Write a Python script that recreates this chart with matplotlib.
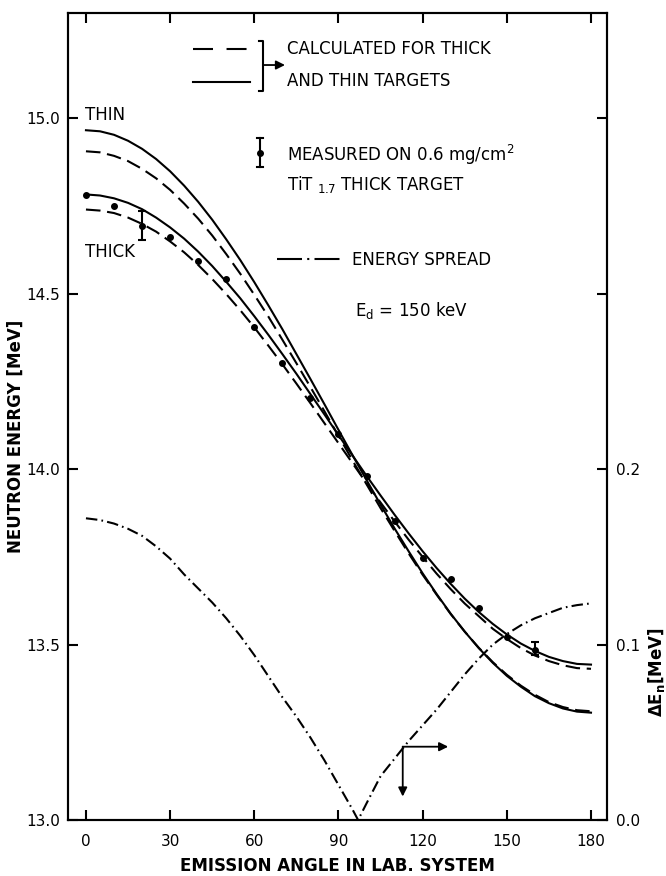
import matplotlib
matplotlib.use("Agg")
import matplotlib.pyplot as plt

plt.rcParams['font.family'] = ['DejaVu Sans']
plt.rcParams['mathtext.default'] = 'regular'

# calculated curves, read every 5 deg
angle = [0, 5, 10, 15, 20, 25, 30, 35, 40, 45, 50, 55, 60, 65, 70, 75, 80, 85, 90,
         95, 100, 105, 110, 115, 120, 125, 130, 135, 140, 145, 150, 155, 160, 165, 170, 175, 180]
thin_solid = [14.966, 14.963, 14.953, 14.936, 14.913, 14.884, 14.849, 14.808, 14.762, 14.711,
              14.655, 14.596, 14.533, 14.467, 14.399, 14.328, 14.257, 14.185, 14.112,
              14.040, 13.969, 13.899, 13.831, 13.766, 13.703, 13.644, 13.588, 13.537, 13.490,
              13.448, 13.411, 13.380, 13.353, 13.333, 13.318, 13.309, 13.306]
thin_dashed = [14.906, 14.903, 14.893, 14.878, 14.856, 14.829, 14.796, 14.757, 14.714, 14.666,
               14.613, 14.557, 14.497, 14.435, 14.369, 14.302, 14.234, 14.165, 14.095,
               14.025, 13.957, 13.889, 13.824, 13.760, 13.699, 13.642, 13.587, 13.537, 13.491,
               13.450, 13.414, 13.383, 13.357, 13.336, 13.322, 13.313, 13.310]
thick_solid = [14.783, 14.780, 14.772, 14.759, 14.741, 14.717, 14.689, 14.657, 14.620, 14.579,
               14.534, 14.487, 14.436, 14.383, 14.328, 14.272, 14.214, 14.156, 14.097,
               14.039, 13.981, 13.925, 13.870, 13.817, 13.766, 13.718, 13.673, 13.631, 13.593,
               13.559, 13.529, 13.503, 13.482, 13.465, 13.453, 13.445, 13.443]
thick_dashed = [14.740, 14.737, 14.730, 14.717, 14.699, 14.677, 14.649, 14.618, 14.582, 14.542,
                14.499, 14.453, 14.404, 14.352, 14.299, 14.244, 14.188, 14.131, 14.074,
                14.017, 13.960, 13.905, 13.851, 13.799, 13.750, 13.702, 13.658, 13.617, 13.581,
                13.545, 13.516, 13.490, 13.469, 13.453, 13.441, 13.433, 13.431]

# energy spread (right axis, MeV)
spread_angle = [0, 5, 10, 15, 20, 25, 30, 35, 40, 45, 50, 55, 60, 65, 70, 75, 80, 85, 90, 95,
                97, 100, 105, 110, 115, 120, 125, 130, 135, 140, 145, 150, 155, 160, 165, 170, 175, 180]
spread = [0.172, 0.171, 0.169, 0.166, 0.162, 0.156, 0.149, 0.140, 0.132, 0.124, 0.115, 0.105,
          0.094, 0.082, 0.070, 0.059, 0.047, 0.034, 0.020, 0.006, 0.0, 0.0095, 0.025, 0.035,
          0.045, 0.054, 0.063, 0.073, 0.083, 0.092, 0.100, 0.106, 0.111, 0.115, 0.118, 0.121,
          0.1225, 0.1235]

# measured points on thick target
meas_angle = [0, 10, 20, 30, 40, 50, 60, 70, 80, 90, 100, 110, 120, 130, 140, 150, 160]
meas_energy = [14.78, 14.751, 14.694, 14.663, 14.594, 14.543, 14.406, 14.303, 14.203, 14.10,
               13.98, 13.851, 13.746, 13.686, 13.605, 13.522, 13.486]
err_angle = [20, 160]
err_energy = [14.694, 13.488]
err_size = [0.042, 0.019]

fig = plt.figure(figsize=(6.66, 8.76), dpi=100)
ax = fig.add_axes([0.1021, 0.0639, 0.8093, 0.9212])

lw = 1.5
ax.plot(angle, thin_solid, color='black', lw=lw)
ax.plot(angle, thin_dashed, color='black', lw=lw, dashes=(7, 3.2))
ax.plot(angle, thick_solid, color='black', lw=lw)
ax.plot(angle, thick_dashed, color='black', lw=lw, dashes=(7, 3.2))
ax.plot(meas_angle, meas_energy, 'o', color='black', ms=4)
ax.errorbar(err_angle, err_energy, yerr=err_size, fmt='none', ecolor='black',
            elinewidth=1.5, capsize=3, capthick=1.5)

ax.set_xlim(-6.4, 185.7)
ax.set_ylim(13.0, 15.3)
ax.set_xticks([0, 30, 60, 90, 120, 150, 180])
ax.set_yticks([13.0, 13.5, 14.0, 14.5, 15.0])
ax.set_yticklabels(['13.0', '13.5', '14.0', '14.5', '15.0'])
ax.tick_params(direction='in', length=7, width=1.5, top=True, labelsize=11)
ax.tick_params(axis='x', pad=10)
ax.tick_params(axis='y', pad=5.5)
for s in ax.spines.values():
    s.set_linewidth(1.5)

ax.set_xlabel('EMISSION ANGLE IN LAB. SYSTEM', fontsize=12, fontweight='bold')
ax.xaxis.set_label_coords(0.5, -0.046)
ax.set_ylabel('NEUTRON ENERGY [MeV]', fontsize=12, fontweight='bold')
ax.yaxis.set_label_coords(-0.08, 0.476)

# right axis for the energy spread
ax2 = ax.twinx()
ax2.plot(spread_angle, spread, color='black', lw=lw, dashes=(5.5, 2, 0.8, 2))
ax2.set_ylim(0, 0.46)
ax2.set_yticks([0, 0.1, 0.2, 0.3, 0.4])
ax2.set_yticklabels(['0.0', '0.1', '0.2', '', ''])
ax2.tick_params(direction='in', length=7, width=1.5, labelsize=11, pad=6.5)
ax2.set_ylabel(r'$\Delta$E$_n$[MeV]', fontsize=12, fontweight='bold')
ax2.yaxis.set_label_coords(1.073, 0.183)
for s in ax2.spines.values():
    s.set_linewidth(1.5)

# arrows telling which axes the spread curve belongs to
ap = dict(arrowstyle='-|>', color='black', lw=1.3, mutation_scale=13, shrinkA=0, shrinkB=0)
ax.annotate('', xy=(129.1, 13.209), xytext=(112.9, 13.209), arrowprops=ap)
ax.annotate('', xy=(112.9, 13.067), xytext=(112.9, 13.209), arrowprops=ap)

# curve labels
ax.text(0.0315, 0.8674, 'THIN', transform=ax.transAxes, fontsize=12, va='baseline')
ax.text(0.0315, 0.698, 'THICK', transform=ax.transAxes, fontsize=12, va='baseline')

# hand drawn legend
T = ax.transAxes
ax.plot([0.2325, 0.3377], [0.9554, 0.9554], color='black', lw=lw, dashes=(9.6, 6.5), transform=T)
ax.plot([0.2325, 0.3377], [0.9141, 0.9141], color='black', lw=lw, transform=T)
ax.plot([0.3549, 0.3623, 0.3623, 0.3549], [0.9657, 0.9657, 0.9037, 0.9037],
        color='black', lw=lw, transform=T)
ax.annotate('', xy=(0.4026, 0.9356), xytext=(0.3623, 0.9356), xycoords=T, arrowprops=ap)
ax.text(0.4069, 0.9496, 'CALCULATED FOR THICK', transform=T, fontsize=12, va='baseline')
ax.text(0.4069, 0.9095, 'AND THIN TARGETS', transform=T, fontsize=12, va='baseline')

ax.plot([0.3562, 0.3562], [0.8095, 0.8447], color='black', lw=lw, transform=T)
ax.plot([0.3505, 0.3619], [0.8447, 0.8447], color='black', lw=lw, transform=T)
ax.plot([0.3505, 0.3619], [0.8095, 0.8095], color='black', lw=lw, transform=T)
ax.plot([0.3562], [0.8269], 'o', color='black', ms=4, transform=T)
ax.text(0.4069, 0.8166, 'MEASURED ON 0.6 mg/cm$^2$', transform=T, fontsize=12, va='baseline')
ax.text(0.4069, 0.7807, 'TiT $_{1.7}$ THICK TARGET', transform=T, fontsize=12, va='baseline')

ax.plot([0.3872, 0.5108], [0.6948, 0.6948], color='black', lw=lw,
        dashes=(12, 2.5, 1, 2.5), transform=T)
ax.text(0.5263, 0.6874, 'ENERGY SPREAD', transform=T, fontsize=12, va='baseline')
ax.text(0.5325, 0.6245, 'E$_d$ = 150 keV', transform=T, fontsize=12, va='baseline')

fig.savefig('out.png', dpi=100)
